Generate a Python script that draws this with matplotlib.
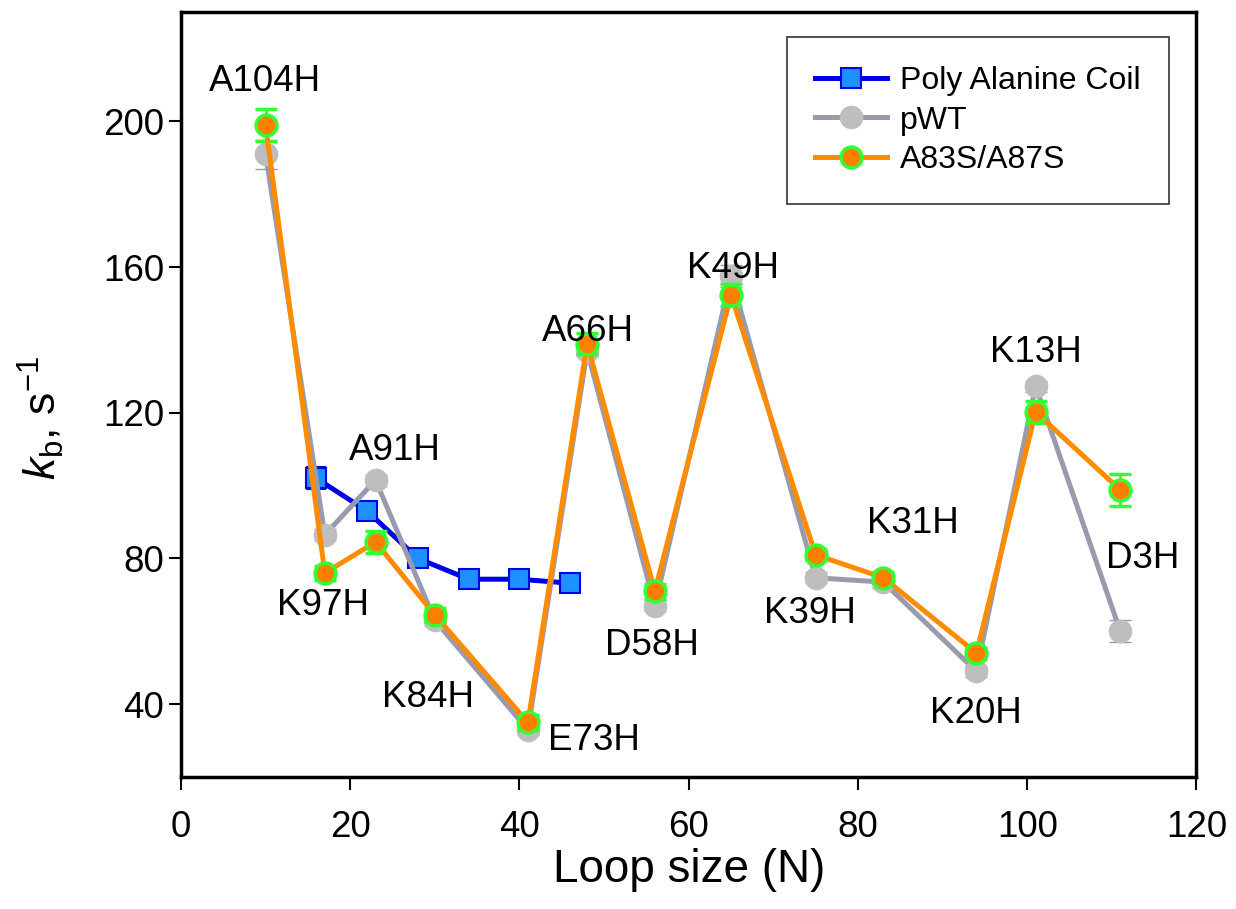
"""Backbone kinetics vs loop size for pWT and A83S/A87S, with the poly-alanine coil reference."""

import matplotlib

matplotlib.use("Agg")
import matplotlib.pyplot as plt

plt.rcParams["font.family"] = ["Liberation Sans", "DejaVu Sans"]
plt.rcParams["mathtext.fontset"] = "custom"
plt.rcParams["mathtext.rm"] = "Liberation Sans"
plt.rcParams["mathtext.it"] = "Liberation Sans:italic"

# poly alanine coil
coil_n = [16, 22, 28, 34, 40, 46]
coil_kb = [102, 93, 80, 74.3, 74.3, 73.2]
coil_err = [3, 1.5, 1.5, 1, 1, 1]

# histidine mutants
mutants = ["A104H", "K97H", "A91H", "K84H", "E73H", "A66H", "D58H",
           "K49H", "K39H", "K31H", "K20H", "K13H", "D3H"]
loop_n = [10, 17, 23, 30, 41, 48, 56, 65, 75, 83, 94, 101, 111]
pwt_kb = [191, 86.5, 101.5, 63, 33, 137, 67, 157.5, 74.7, 73.5, 49, 127.3, 60]
pwt_err = [4, 1.5, 1.5, 1.5, 1.5, 1.5, 1.5, 3, 1.5, 1.5, 1.5, 1.5, 3]
dbl_kb = [199, 76, 84.5, 64.5, 35, 139, 71, 152.3, 81, 74.7, 54, 120.2, 98.8]
dbl_err = [4.5, 2, 3, 2, 2, 3, 2, 3, 1.5, 1.5, 1.5, 3, 4.5]

# where each mutant name sits (data coords)
label_x = [9.9, 16.8, 25.3, 29.2, 48.8, 48.1, 55.7, 65.2, 74.3, 86.5, 93.9, 101, 113.6]
label_y = [211, 67, 109.5, 41.7, 29.9, 142.4, 56, 159.5, 65, 89.7, 37.3, 136.4, 80]


def main() -> None:
    fig = plt.figure(figsize=(12.36, 9.09), dpi=100)
    ax = fig.add_axes([0.1464, 0.1452, 0.8216, 0.8416])

    coil = ax.errorbar(coil_n, coil_kb, yerr=coil_err, color="#0000E6", lw=3.6,
                       marker="s", ms=15, mfc="#1E90FF", mec="#0000E6", mew=1.5,
                       ecolor="#0000E6", elinewidth=2, capsize=7, capthick=2,
                       zorder=2)
    pwt = ax.errorbar(loop_n, pwt_kb, yerr=pwt_err, color="#9A9AAE", lw=3.6,
                      marker="o", ms=16, mfc="#BEBEBE", mec="#BEBEBE", mew=1,
                      ecolor="#9A9AAE", elinewidth=2, capsize=8, capthick=2,
                      zorder=3)
    dbl = ax.errorbar(loop_n, dbl_kb, yerr=dbl_err, color="#FF8C00", lw=3.6,
                      marker="o", ms=15, mfc="#FF8000", mec="#33FF33", mew=2.5,
                      ecolor="#33FF33", elinewidth=2, capsize=8, capthick=2,
                      zorder=4)

    for name, x, y in zip(mutants, label_x, label_y):
        ax.text(x, y, name, fontsize=26.5, ha="center", va="center", zorder=5)

    ax.set_xlim(0, 120)
    ax.set_ylim(20, 230)
    ax.set_xticks([0, 20, 40, 60, 80, 100, 120])
    ax.set_yticks([40, 80, 120, 160, 200])
    ax.tick_params(axis="both", labelsize=26.5, length=9, width=1.5,
                   direction="out")
    ax.tick_params(axis="x", pad=15)
    ax.tick_params(axis="y", pad=3)
    for spine in ax.spines.values():
        spine.set_linewidth(2.5)

    ax.set_xlabel("Loop size (N)", fontsize=33, labelpad=2)
    ax.set_ylabel(r"$\mathit{k}_{\mathrm{b}}$, s$^{\mathrm{-1}}$", fontsize=32)
    ax.yaxis.set_label_coords(-0.113, 0.47)

    leg = ax.legend([coil[0], pwt[0], dbl[0]],
                    ["Poly Alanine Coil", "pWT", "A83S/A87S"],
                    loc="upper right", bbox_to_anchor=(0.9734, 0.967),
                    borderaxespad=0, fontsize=23, frameon=True, fancybox=False,
                    handlelength=2.25, labelspacing=0.3, borderpad=0.9,
                    handletextpad=0.4)
    leg.get_frame().set_edgecolor("black")
    leg.get_frame().set_linewidth(1.2)

    fig.savefig("out.png", dpi=100)
    plt.close(fig)


if __name__ == "__main__":
    main()
